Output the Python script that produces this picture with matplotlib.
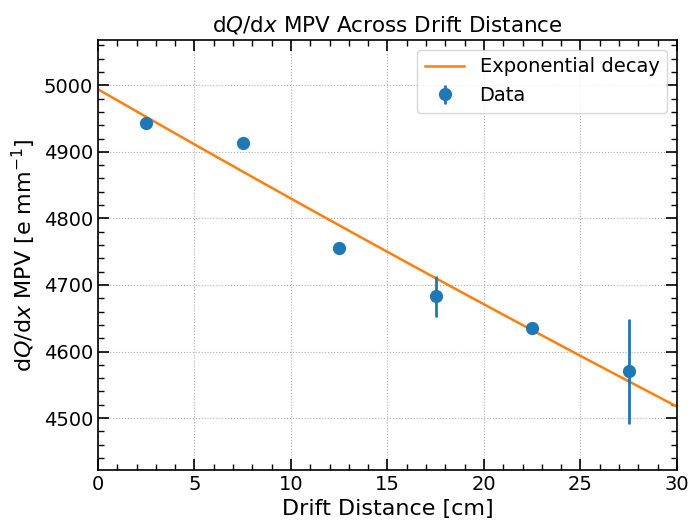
import numpy as np
import matplotlib
matplotlib.use("Agg")
import matplotlib.pyplot as plt
from matplotlib.ticker import MultipleLocator

# data
drift = [2.5, 7.5, 12.5, 17.5, 22.5, 27.5]
mpv = [4944, 4913, 4755, 4683, 4635, 4570]
mpv_err = [3, 3, 3, 31, 3, 79]

# exponential fit parameters
fit_amp = 4994.0
fit_tau = 299.0

fig = plt.figure(figsize=(6.88, 5.22), dpi=100)
ax = fig.add_axes([0.1424, 0.0996, 0.8416, 0.8238])

x_fit = np.linspace(0, 30, 200)
ax.plot(x_fit, fit_amp * np.exp(-x_fit / fit_tau), color="tab:orange", lw=1.8,
        label="Exponential decay", zorder=2)
ax.errorbar(drift, mpv, yerr=mpv_err, fmt="o", color="tab:blue", ms=8.5, elinewidth=2,
            label="Data", zorder=3)

ax.set_xlim(0, 30)
ax.set_ylim(4422, 5068)
ax.xaxis.set_major_locator(MultipleLocator(5))
ax.xaxis.set_minor_locator(MultipleLocator(1))
ax.yaxis.set_major_locator(MultipleLocator(100))
ax.yaxis.set_minor_locator(MultipleLocator(20))
ax.tick_params(which="both", direction="in", top=True, right=True, labelsize=14)
ax.tick_params(which="major", length=8, width=1.2)
ax.tick_params(which="minor", length=4, width=1)
for s in ax.spines.values():
    s.set_linewidth(1.2)
ax.grid(which="major", linestyle=":", color="#b0b0b0")

ax.set_xlabel("Drift Distance [cm]", fontsize=16)
ax.set_ylabel(r"d$Q$/d$x$ MPV [e mm$^{-1}$]", fontsize=16)
ax.set_title(r"d$Q$/d$x$ MPV Across Drift Distance", fontsize=15.5)
ax.legend(loc="upper right", fontsize=14)

fig.savefig("out.png", dpi=100)
